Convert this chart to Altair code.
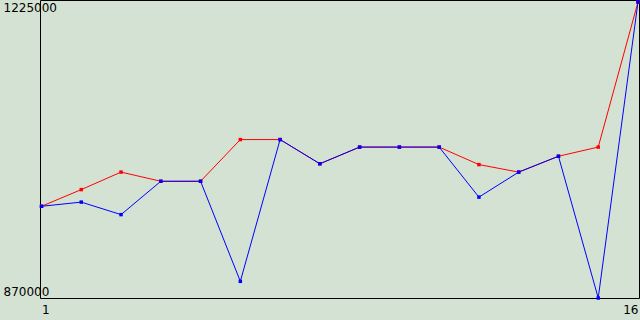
import altair as alt
import pandas as pd

x_values = list(range(1, 17))
red_values = [980000, 1000000, 1021000, 1010000, 1010000, 1060000, 1060000, 1031000,
              1051000, 1051000, 1051000, 1030000, 1021000, 1040000, 1051000, 1225000]
blue_values = [980000, 985000, 970000, 1010000, 1010000, 890000, 1060000, 1031000,
               1051000, 1051000, 1051000, 991000, 1021000, 1040000, 870000, 1225000]
y_ticks = [870000, 1225000]
x_ticks = [1, 16]

bg = "#d4e2d4"

red_df = pd.DataFrame({"x": x_values, "v": red_values})
blue_df = pd.DataFrame({"x": x_values, "v": blue_values})

W, H = 599, 298

xenc = alt.X("x:Q",
             scale=alt.Scale(domain=[1, 16], range=[1.5, 598], nice=False, zero=False),
             axis=alt.Axis(values=x_ticks, title=None, grid=False, domain=False, ticks=False,
                           tickSize=0, labelFlush=True, labelPadding=6, labelFont="DejaVu Sans",
                           labelFontSize=12, labelColor="black", format="d"))
yenc = alt.Y("v:Q",
             scale=alt.Scale(domain=[870000, 1225000], range=[H, 2], nice=False, zero=False),
             axis=alt.Axis(values=y_ticks, title=None, grid=False, domain=False, ticks=False,
                           tickSize=0, labelFlush=True, labelAlign="left", labelPadding=37,
                           labelFont="DejaVu Sans", labelFontSize=12, labelColor="black",
                           format="d"))

def series(df, color):
    return alt.Chart(df).mark_line(
        color=color, strokeWidth=1,
        point=alt.OverlayMarkDef(shape="square", size=12, filled=True, color=color, opacity=1)
    ).encode(x=xenc, y=yenc)

chart = alt.layer(series(red_df, "#ff0000"), series(blue_df, "#0000ff")).properties(
    width=W, height=H,
    background=bg,
    padding={"left": 40, "top": 0, "right": 1, "bottom": 22},
    autosize=alt.AutoSizeParams(type="none"),
).configure_view(fill=bg, stroke="black", strokeWidth=1)

chart.save("out.html", embed_options={"renderer": "svg", "actions": False})
